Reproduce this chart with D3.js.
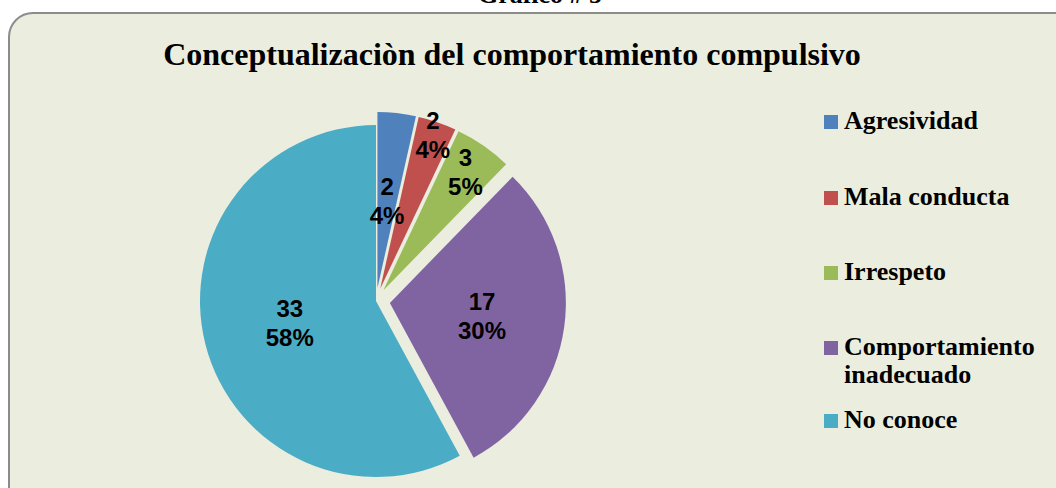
<!DOCTYPE html>
<html>
<head>
<meta charset="utf-8">
<script src="https://cdn.jsdelivr.net/npm/d3@7"></script>
<style>
  body { margin: 0; background: #ffffff; }
  svg { display: block; }
</style>
</head>
<body>
<script>
// Grafico # 5 - pie chart
var width = 1056;
var height = 488;

// data
var categories = ["Agresividad", "Mala conducta", "Irrespeto", "Comportamiento inadecuado", "No conoce"];
var values = [2, 2, 3, 17, 33];
var colors = ["#4F81BD", "#C0504D", "#9BBB59", "#8064A2", "#4BACC6"];

// layout settings
var cx = 376, cy = 301, radius = 176;
var explode = [13, 13, 13, 14, 0];
var labelDist = [101, 175, 157, 107, 89];

var svg = d3.select("body")
  .append("svg")
  .attr("width", width)
  .attr("height", height);

// header above the frame (mostly cut off)
svg.append("text")
  .attr("x", 540)
  .attr("y", 3)
  .attr("text-anchor", "middle")
  .style("font-family", "'Liberation Serif', 'Times New Roman', serif")
  .style("font-weight", "bold")
  .style("font-size", "26px")
  .text("Gráfico # 5");

// frame
svg.append("rect")
  .attr("x", 9)
  .attr("y", 13)
  .attr("width", 1100)
  .attr("height", 500)
  .attr("rx", 24)
  .attr("ry", 24)
  .attr("fill", "#EBEEDF")
  .attr("stroke", "#8C8C8C")
  .attr("stroke-width", 2);

// title
svg.append("text")
  .attr("x", 512)
  .attr("y", 65)
  .attr("text-anchor", "middle")
  .style("font-family", "'Liberation Serif', 'Times New Roman', serif")
  .style("font-weight", "bold")
  .style("font-size", "32px")
  .text("Conceptualizaciòn del comportamiento compulsivo");

var total = d3.sum(values);
var pie = d3.pie().sort(null).value(function(d) { return d; });
var arcs = pie(values);

var arc = d3.arc().innerRadius(0).outerRadius(radius);

var g = svg.append("g")
  .attr("transform", "translate(" + cx + "," + cy + ")");

function dirOf(d) {
  var a = (d.startAngle + d.endAngle) / 2;
  return [Math.sin(a), -Math.cos(a)];
}

g.selectAll("path")
  .data(arcs)
  .enter()
  .append("path")
    .attr("d", arc)
    .attr("fill", function(d, i) { return colors[i]; })
    .attr("transform", function(d, i) {
      var v = dirOf(d);
      return "translate(" + (v[0] * explode[i]) + "," + (v[1] * explode[i]) + ")";
    });

// data labels
var labels = g.selectAll("text.lbl")
  .data(arcs)
  .enter()
  .append("text")
    .attr("class", "lbl")
    .attr("text-anchor", "middle")
    .style("font-family", "'Liberation Sans', Arial, sans-serif")
    .style("font-weight", "bold")
    .style("font-size", "24px")
    .attr("transform", function(d, i) {
      var v = dirOf(d);
      return "translate(" + (v[0] * labelDist[i]) + "," + (v[1] * labelDist[i]) + ")";
    });

labels.append("tspan")
  .attr("x", 0)
  .attr("y", -6)
  .text(function(d) { return d.value; });

labels.append("tspan")
  .attr("x", 0)
  .attr("y", 23)
  .text(function(d) { return Math.round(d.value / total * 100) + "%"; });

// legend
var legendY = [129, 205, 280, 355, 428];
var legend = svg.selectAll("g.leg")
  .data(categories)
  .enter()
  .append("g")
    .attr("class", "leg")
    .attr("transform", function(d, i) { return "translate(824," + legendY[i] + ")"; });

legend.append("rect")
  .attr("x", 0)
  .attr("y", -14)
  .attr("width", 14)
  .attr("height", 14)
  .attr("fill", function(d, i) { return colors[i]; });

legend.append("text")
  .style("font-family", "'Liberation Serif', 'Times New Roman', serif")
  .style("font-weight", "bold")
  .style("font-size", "26px")
  .each(function(d) {
    var t = d3.select(this);
    var parts = d == "Comportamiento inadecuado" ? ["Comportamiento", "inadecuado"] : [d];
    parts.forEach(function(p, k) {
      t.append("tspan")
        .attr("x", 20)
        .attr("y", k * 28)
        .text(p);
    });
  });
</script>
</body>
</html>
